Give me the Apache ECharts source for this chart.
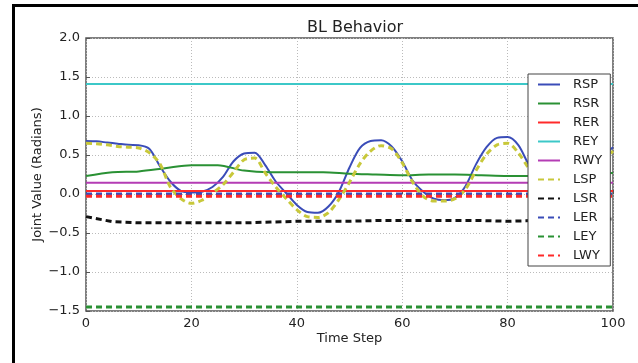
<!DOCTYPE html>
<html>
<head>
<meta charset="utf-8">
<script src="https://cdn.jsdelivr.net/npm/echarts@6/dist/echarts.min.js"></script>
<style>
  html, body { margin: 0; padding: 0; background: #fff; }
  #chart { width: 638px; height: 363px; }
</style>
</head>
<body>
<div id="chart"></div>
<script>
// time steps (fine for the swinging joints, coarse for the slow ones)
var stepsFine = [0,2,4,6,8,10,12,14,16,18,20,22,24,26,28,30,32,34,36,38,40,42,44,46,48,50,
                 52,54,56,58,60,62,64,66,68,70,72,74,76,78,80,82,84,86,88,90,92,94,96,98,100];
var stepsCoarse = [0,5,10,15,20,25,30,35,40,45,50,55,60,65,70,75,80,85,90,95,100];

var rsp = [0.68,0.675,0.66,0.645,0.63,0.625,0.58,0.36,0.16,0.04,0.02,0.03,0.09,0.22,0.42,0.52,0.53,0.37,0.16,0.01,
           -0.14,-0.23,-0.24,-0.16,0.03,0.34,0.59,0.68,0.69,0.61,0.42,0.17,0.03,-0.06,-0.08,-0.05,0.10,0.38,0.60,0.72,
           0.73,0.63,0.38,0.20,0.08,0.03,0.04,0.14,0.32,0.48,0.60];
var lsp = [0.65,0.645,0.63,0.61,0.60,0.59,0.53,0.39,0.09,-0.06,-0.12,-0.08,0.01,0.12,0.28,0.44,0.46,0.27,0.09,-0.06,
           -0.20,-0.29,-0.30,-0.24,-0.07,0.15,0.39,0.55,0.62,0.58,0.40,0.15,-0.03,-0.09,-0.09,-0.06,0.06,0.30,0.51,0.63,
           0.65,0.53,0.33,0.15,0.03,-0.03,-0.02,0.06,0.22,0.40,0.55];

var rsr = [0.23,0.28,0.29,0.33,0.37,0.37,0.30,0.28,0.28,0.28,0.26,0.25,0.24,0.25,0.25,0.24,0.23,0.23,0.24,0.26,0.27];
var rer = [0.04,0.04,0.04,0.04,0.04,0.04,0.04,0.04,0.04,0.04,0.04,0.04,0.04,0.04,0.04,0.04,0.04,0.04,0.04,0.04,0.04];
var rey = [1.41,1.41,1.41,1.41,1.41,1.41,1.41,1.41,1.41,1.41,1.41,1.41,1.41,1.41,1.41,1.41,1.41,1.41,1.41,1.41,1.41];
var rwy = [0.145,0.145,0.145,0.145,0.145,0.145,0.145,0.145,0.145,0.145,0.145,0.145,0.145,0.145,0.145,0.145,0.145,0.145,0.145,0.145,0.145];
var lsr = [-0.29,-0.355,-0.37,-0.37,-0.37,-0.37,-0.37,-0.36,-0.35,-0.35,-0.35,-0.34,-0.34,-0.34,-0.34,-0.34,-0.35,-0.34,-0.33,-0.33,-0.32];
var ler = [0.0,0.0,0.0,0.0,0.0,0.0,0.0,0.0,0.0,0.0,0.0,0.0,0.0,0.0,0.0,0.0,0.0,0.0,0.0,0.0,0.0];
var ley = [-1.45,-1.45,-1.45,-1.45,-1.45,-1.45,-1.45,-1.45,-1.45,-1.45,-1.45,-1.45,-1.45,-1.45,-1.45,-1.45,-1.45,-1.45,-1.45,-1.45,-1.45];
var lwy = [-0.03,-0.03,-0.03,-0.03,-0.03,-0.03,-0.03,-0.03,-0.03,-0.03,-0.03,-0.03,-0.03,-0.03,-0.03,-0.03,-0.03,-0.03,-0.03,-0.03,-0.03];

var yTicks = [-1.5, -1.0, -0.5, 0.0, 0.5, 1.0, 1.5, 2.0];
var xTicks = [0, 20, 40, 60, 80, 100];

var FONT = 'DejaVu Sans';

function pairs(steps, vals) {
  return steps.map(function (t, i) { return [t, vals[i]]; });
}

function mkLine(name, steps, vals, color, dashed, smooth) {
  return {
    name: name,
    type: 'line',
    data: pairs(steps, vals),
    symbol: 'none',
    smooth: smooth ? 0.3 : false,
    lineStyle: dashed
      ? { color: color, width: 3, type: [6, 4] }
      : { color: color, width: 2 },
    itemStyle: { color: color }
  };
}

var series = [
  mkLine('RSP', stepsFine, rsp, '#3a4cb8', false, true),
  mkLine('RSR', stepsCoarse, rsr, '#2a9134', false, true),
  mkLine('RER', stepsCoarse, rer, '#ff2a2a', false),
  mkLine('REY', stepsCoarse, rey, '#3cc8c8', false),
  mkLine('RWY', stepsCoarse, rwy, '#b43cb4', false),
  mkLine('LSP', stepsFine, lsp, '#c8c83a', true, true),
  mkLine('LSR', stepsCoarse, lsr, '#111111', true),
  mkLine('LER', stepsCoarse, ler, '#3a4cb8', true),
  mkLine('LEY', stepsCoarse, ley, '#2a9134', true),
  mkLine('LWY', stepsCoarse, lwy, '#ff2a2a', true)
];

var myChart = echarts.init(document.getElementById('chart'));
var option = {
  animation: false,
  backgroundColor: '#fff',
  textStyle: { fontFamily: FONT },
  title: {
    text: 'BL Behavior',
    left: 350,
    top: 15,
    textAlign: 'center',
    textStyle: { fontFamily: FONT, fontSize: 16, fontWeight: 'normal', color: '#222' }
  },
  graphic: [{
    type: 'polyline',
    shape: { points: [[13.5, 363], [13.5, 5.5], [638, 5.5]] },
    style: { fill: null, stroke: '#000', lineWidth: 3 },
    silent: true
  }],
  legend: {
    orient: 'vertical',
    left: 528,
    top: 74,
    padding: [4, 8, 4, 9],
    itemGap: 6,
    itemWidth: 22,
    itemHeight: 14,
    backgroundColor: '#fff',
    borderColor: '#444',
    borderWidth: 1,
    borderRadius: 0,
    itemStyle: { opacity: 0 },
    textStyle: { fontFamily: FONT, fontSize: 13, color: '#222', padding: [0, 0, 0, 8] },
    data: series.map(function (s) { return s.name; })
  },
  grid: {
    left: 86,
    right: 25,
    top: 38,
    bottom: 52,
    show: true,
    borderColor: '#555',
    borderWidth: 1.5,
    backgroundColor: 'transparent'
  },
  xAxis: {
    type: 'value',
    min: xTicks[0],
    max: xTicks[xTicks.length - 1],
    interval: 20,
    name: 'Time Step',
    nameLocation: 'middle',
    nameGap: 21,
    nameMoveOverlap: false,
    nameTextStyle: { fontFamily: FONT, fontSize: 13, color: '#222' },
    axisLine: { show: false },
    axisTick: { show: true, inside: true, length: 4, lineStyle: { color: '#555' } },
    axisLabel: { fontFamily: FONT, fontSize: 13, color: '#222', margin: 6 },
    splitLine: { show: true, lineStyle: { color: '#bbb', type: [1, 2] } }
  },
  yAxis: {
    type: 'value',
    min: yTicks[0],
    max: yTicks[yTicks.length - 1],
    interval: 0.5,
    name: 'Joint Value (Radians)',
    nameLocation: 'middle',
    nameGap: 42,
    nameMoveOverlap: false,
    nameTextStyle: { fontFamily: FONT, fontSize: 13, color: '#222' },
    axisLine: { show: false },
    axisTick: { show: true, inside: true, length: 4, lineStyle: { color: '#555' } },
    axisLabel: {
      fontFamily: FONT, fontSize: 13, color: '#222', margin: 6,
      formatter: function (v) { return v.toFixed(1).replace('-', '\u2212'); }
    },
    splitLine: { show: true, lineStyle: { color: '#bbb', type: [1, 2] } }
  },
  series: series
};
myChart.setOption(option);
</script>
</body>
</html>
